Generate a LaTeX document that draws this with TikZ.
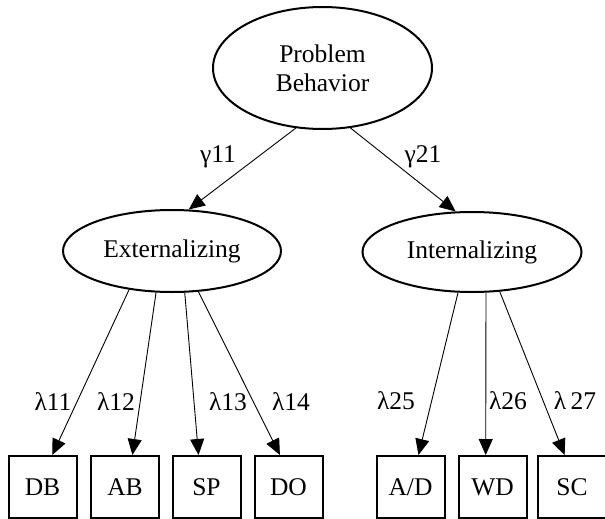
\documentclass[tikz,border=0pt]{standalone}
\usepackage{fontspec}
\setmainfont{Liberation Serif}
\usetikzlibrary{shapes.geometric,arrows.meta}

\begin{document}
\begin{tikzpicture}[x=1pt, y=-1pt]

% styles
\tikzstyle{latent}=[ellipse, draw, line width=2pt, inner sep=0pt, align=center, font=\fontsize{25.5}{29}\selectfont]
\tikzstyle{observed}=[rectangle, draw, line width=2pt, minimum width=68pt, minimum height=62pt, inner sep=0pt, font=\fontsize{25.5}{29}\selectfont]
\tikzstyle{coef}=[rectangle, inner sep=0pt, font=\fontsize{25.5}{29}\selectfont]
\tikzstyle{load}=[-{Triangle[length=16pt,width=14pt]}, line width=0.9pt]

\useasboundingbox (0,0) rectangle (605,519);

% latent variables
\node[latent, minimum width=219pt, minimum height=122pt] (pb) at (322.5,68) {Problem\\Behavior};
\node[latent, minimum width=218pt, minimum height=82pt] (ext) at (172,251) {Externalizing};
\node[latent, minimum width=219pt, minimum height=80pt] (int) at (472,252) {Internalizing};

% indicators
\node[observed] (db) at (42.5,487) {DB};
\node[observed] (ab) at (125,487) {AB};
\node[observed] (sp) at (206.5,487) {SP};
\node[observed] (do) at (288.5,487) {DO};
\node[observed] (ad) at (410.5,487) {A/D};
\node[observed] (wd) at (492.5,487) {WD};
\node[observed] (sc) at (572,487) {SC};

% structural paths
\draw[load] (pb.246) -- (ext.68);
\draw[load] (pb.295) -- (int.112);
\node[coef] (g11) at (218,157) {γ11};
\node[coef] (g21) at (423,157) {γ21};

% loadings
\draw[load] (ext.222) -- (db.73);
\draw[load] (ext.249) -- (ab.77);
\draw[load] (ext.287) -- (sp.104);
\draw[load] (ext.303) -- (do.105);
\draw[load] (int.251) -- (ad.76);
\draw[load] (int.289) -- (wd.102);
\draw[load] (int.305) -- (sc.103);

\node[coef] (l11) at (53,402) {λ11};
\node[coef] (l12) at (116,402) {λ12};
\node[coef] (l13) at (228,402) {λ13};
\node[coef] (l14) at (291,402) {λ14};
\node[coef] (l25) at (396,401) {λ25};
\node[coef] (l26) at (508,401) {λ26};
\node[coef] (l27) at (575,401) {λ\,27};

\end{tikzpicture}
\end{document}
